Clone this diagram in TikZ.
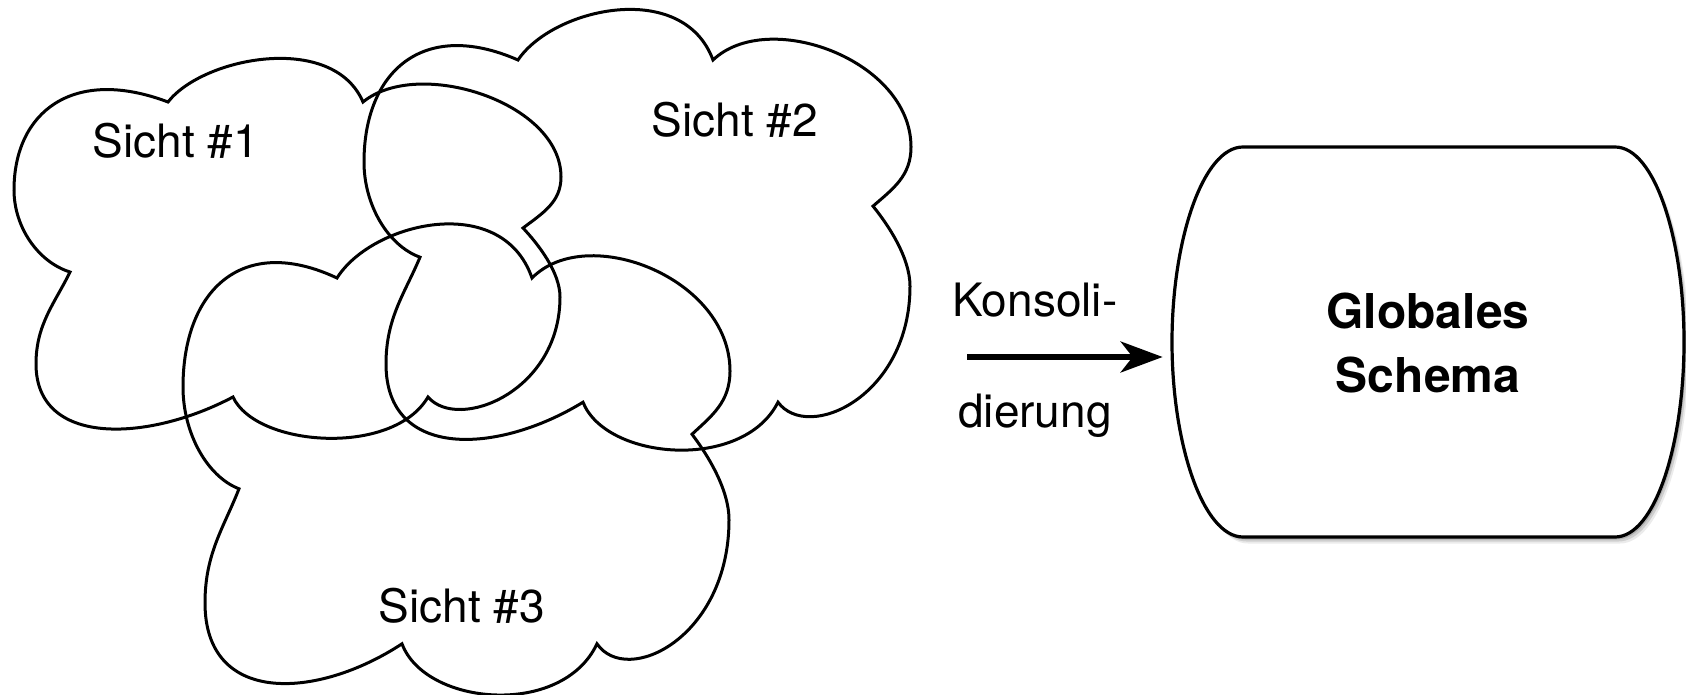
\documentclass[tikz,border=0pt]{standalone}
\usepackage{fontspec}
\setmainfont{TeX Gyre Heros}
\usetikzlibrary{arrows.meta}
\newcommand\sichtcloud[3]{%
\begin{scope}[shift={(#1,#2)},yscale=#3]
\draw[cloudline] (0,0) .. controls (35,-45) and (165,-70) .. (195,0)
 .. controls (250,-45) and (393,0) .. (393,75)
 .. controls (393,100) and (375,111) .. (355,126)
 .. controls (370,142) and (392,170) .. (392,195)
 .. controls (392,290) and (290,330) .. (260,295)
 .. controls (225,355) and (88,345) .. (65,295)
 .. controls (-20,340) and (-132,345) .. (-132,262)
 .. controls (-132,222) and (-113,201) .. (-98,170)
 .. controls (-130,160) and (-154,125) .. (-154,88)
 .. controls (-154,10) and (-95,-36) .. (0,0) -- cycle;
\end{scope}}
\newcommand\gsbox[1]{%
\path[#1] (1243,147) -- (1615,147)
 .. controls (1655,147) and (1684,240) .. (1684,342)
 .. controls (1684,444) and (1655,537) .. (1615,537)
 -- (1243,537)
 .. controls (1203,537) and (1172,444) .. (1172,342)
 .. controls (1172,240) and (1203,147) .. (1243,147) -- cycle;}
\begin{document}
\begin{tikzpicture}[x=0.5pt,y=-0.5pt,
  cloudline/.style={line width=1.5pt, line join=miter, draw=black},
  lbl/.style={font=\fontsize{23}{27}\selectfont, inner sep=0pt, anchor=base},
  arr/.style={line width=2.6pt, -{Stealth[length=21pt,width=15.5pt,inset=6pt]}},
  shadowlayer/.style={fill=black, opacity=#1}
]
\useasboundingbox (0,0) rectangle (1686,695);
% clouds
\sichtcloud{168}{102}{1}
\sichtcloud{518}{60}{1.16}
\sichtcloud{337}{278}{1.24}
\node[lbl] (s1) at (176,158) {Sicht \#1};
\node[lbl] (s2) at (735,137) {Sicht \#2};
\node[lbl] (s3) at (462,622) {Sicht \#3};
% box with shadow
\gsbox{shadowlayer=0.15, shift={(2,2.5)}}
\gsbox{shadowlayer=0.12, shift={(3.5,4.5)}}
\gsbox{shadowlayer=0.08, shift={(5,6.5)}}
\gsbox{fill=white, draw=black, line width=1.6pt}
\node[minimum width=256pt, minimum height=195pt, inner sep=0pt, align=center,
  font=\fontsize{24}{32}\selectfont\bfseries] (gs) at (1428,343) {Globales\\Schema};
% arrow with labels
\node[lbl] (k1) at (1035,316) {Konsoli-};
\node[lbl] (k2) at (1035,427) {dierung};
\coordinate (at) at (967,357);
\draw[arr, shorten >=4.5pt] (at) -- (at -| gs.west);
\end{tikzpicture}
\end{document}
